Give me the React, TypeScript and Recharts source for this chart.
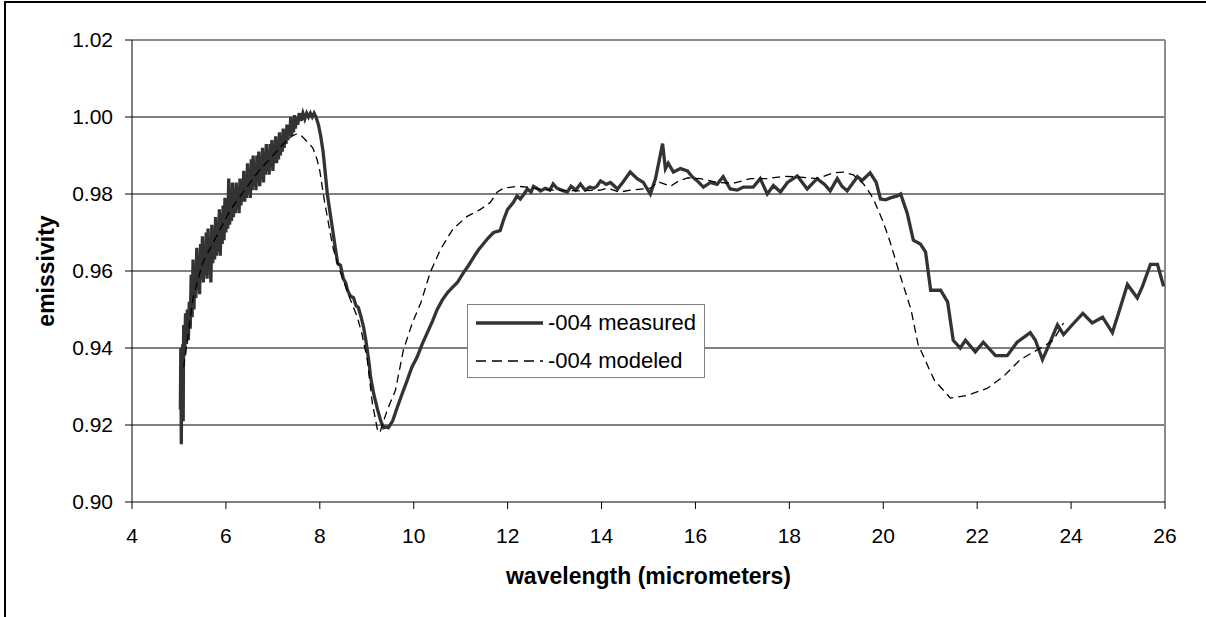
import React from 'react';
import { LineChart, Line, XAxis, YAxis, CartesianGrid, ReferenceLine, Legend, Label } from 'recharts';

const xTicks = [4, 6, 8, 10, 12, 14, 16, 18, 20, 22, 24, 26];
const yTicks = [0.9, 0.92, 0.94, 0.96, 0.98, 1.0, 1.02];
const gridValues = [0.92, 0.94, 0.96, 0.98, 1.0];

const measuredName = '-004 measured';
const modeledName = '-004 modeled';

// [wavelength (micrometers), emissivity]
const measuredPoints: [number, number][] = [
  [5.03, 0.924], [5.04, 0.940], [5.05, 0.915], [5.06, 0.935], [5.07, 0.927], [5.08, 0.941], [5.09, 0.921], [5.10, 0.946],
  [5.12, 0.938], [5.14, 0.949], [5.16, 0.941], [5.18, 0.950], [5.20, 0.942], [5.22, 0.952], [5.24, 0.945], [5.26, 0.959],
  [5.28, 0.948], [5.30, 0.963], [5.32, 0.950], [5.34, 0.961], [5.36, 0.953], [5.38, 0.966], [5.40, 0.955], [5.42, 0.964],
  [5.44, 0.954], [5.46, 0.967], [5.48, 0.958], [5.50, 0.969], [5.52, 0.957], [5.54, 0.966], [5.56, 0.959], [5.58, 0.970],
  [5.60, 0.958], [5.62, 0.971], [5.64, 0.961], [5.66, 0.968], [5.68, 0.957], [5.70, 0.972], [5.72, 0.962], [5.74, 0.970],
  [5.76, 0.963], [5.78, 0.974], [5.80, 0.964], [5.82, 0.972], [5.84, 0.965], [5.86, 0.976], [5.88, 0.964], [5.90, 0.975],
  [5.92, 0.967], [5.94, 0.977], [5.96, 0.968], [5.98, 0.979], [6.00, 0.970], [6.02, 0.978], [6.04, 0.971], [6.06, 0.984],
  [6.08, 0.972], [6.10, 0.981], [6.12, 0.973], [6.14, 0.983], [6.16, 0.974], [6.18, 0.980], [6.20, 0.975], [6.22, 0.983],
  [6.24, 0.976], [6.26, 0.982], [6.28, 0.975], [6.30, 0.984], [6.32, 0.977], [6.34, 0.983], [6.36, 0.978], [6.38, 0.986],
  [6.40, 0.978], [6.42, 0.985], [6.44, 0.979], [6.46, 0.988], [6.48, 0.980], [6.50, 0.986], [6.52, 0.979], [6.54, 0.989],
  [6.56, 0.981], [6.58, 0.990], [6.60, 0.982], [6.62, 0.988], [6.64, 0.981], [6.66, 0.990], [6.68, 0.983], [6.70, 0.991],
  [6.72, 0.982], [6.74, 0.989], [6.76, 0.984], [6.78, 0.992], [6.80, 0.983], [6.82, 0.990], [6.84, 0.985], [6.86, 0.993],
  [6.88, 0.986], [6.90, 0.991], [6.92, 0.985], [6.94, 0.993], [6.96, 0.987], [6.98, 0.994], [7.00, 0.986], [7.02, 0.992],
  [7.04, 0.988], [7.06, 0.995], [7.08, 0.988], [7.10, 0.993], [7.12, 0.989], [7.14, 0.996], [7.16, 0.990], [7.18, 0.995],
  [7.20, 0.991], [7.22, 0.997], [7.24, 0.992], [7.26, 0.996], [7.28, 0.993], [7.30, 0.998], [7.32, 0.994], [7.34, 0.997],
  [7.36, 0.995], [7.38, 1.000], [7.40, 0.995], [7.42, 0.999], [7.44, 0.996], [7.46, 1.0005], [7.48, 0.997], [7.50, 1.000],
  [7.53, 0.998], [7.56, 1.001], [7.60, 0.999], [7.64, 1.001], [7.68, 0.9995], [7.72, 1.001], [7.76, 1.000], [7.80, 1.001],
  [7.84, 1.000], [7.88, 1.001], [7.92, 1.000], [7.97, 0.998], [8.02, 0.995], [8.07, 0.991], [8.12, 0.985], [8.16, 0.980],
  [8.22, 0.975], [8.27, 0.971], [8.33, 0.966], [8.38, 0.962], [8.44, 0.9615], [8.50, 0.958], [8.55, 0.957], [8.59, 0.955],
  [8.65, 0.9535], [8.72, 0.953], [8.77, 0.951], [8.82, 0.9505], [8.88, 0.948], [8.93, 0.9455], [8.98, 0.942], [9.01, 0.9395],
  [9.05, 0.936], [9.08, 0.9325], [9.15, 0.928], [9.23, 0.924], [9.30, 0.921], [9.36, 0.9193], [9.42, 0.9195], [9.46, 0.9193],
  [9.55, 0.921], [9.65, 0.9246], [9.75, 0.928], [9.86, 0.9316], [9.96, 0.935], [10.07, 0.9376], [10.18, 0.941], [10.29, 0.944],
  [10.40, 0.947], [10.50, 0.950], [10.61, 0.9525], [10.72, 0.9544], [10.83, 0.9558], [10.93, 0.957], [11.06, 0.9596], [11.17, 0.9615],
  [11.27, 0.9635], [11.38, 0.9655], [11.48, 0.967], [11.58, 0.9685], [11.70, 0.970], [11.84, 0.9705], [11.92, 0.9735], [12.00, 0.976],
  [12.12, 0.9778], [12.20, 0.9795], [12.27, 0.9787], [12.35, 0.980], [12.42, 0.9813], [12.50, 0.9805], [12.55, 0.982], [12.62, 0.9815],
  [12.70, 0.9808], [12.80, 0.9815], [12.90, 0.981], [12.97, 0.9826], [13.05, 0.9815], [13.15, 0.981], [13.27, 0.9805], [13.35, 0.982],
  [13.45, 0.981], [13.55, 0.9826], [13.65, 0.981], [13.75, 0.9818], [13.83, 0.9815], [13.90, 0.982], [13.98, 0.9834], [14.10, 0.9825],
  [14.19, 0.983], [14.34, 0.9813], [14.45, 0.983], [14.61, 0.9857], [14.76, 0.984], [14.89, 0.983], [15.04, 0.980], [15.15, 0.984],
  [15.30, 0.9931], [15.36, 0.9866], [15.42, 0.988], [15.53, 0.9857], [15.68, 0.9866], [15.83, 0.986], [15.93, 0.9845], [16.04, 0.9834],
  [16.17, 0.9818], [16.32, 0.983], [16.46, 0.9825], [16.59, 0.9845], [16.74, 0.9813], [16.89, 0.981], [17.02, 0.9818], [17.23, 0.9818],
  [17.38, 0.984], [17.53, 0.980], [17.66, 0.9822], [17.81, 0.9805], [17.96, 0.983], [18.17, 0.9847], [18.38, 0.9813], [18.59, 0.984],
  [18.75, 0.9825], [18.87, 0.9808], [19.02, 0.984], [19.12, 0.982], [19.23, 0.9808], [19.45, 0.9845], [19.55, 0.9835], [19.72, 0.9855],
  [19.85, 0.983], [19.94, 0.9787], [20.05, 0.9785], [20.15, 0.979], [20.30, 0.9795], [20.37, 0.980], [20.51, 0.975], [20.64, 0.968],
  [20.79, 0.967], [20.90, 0.965], [21.01, 0.955], [21.22, 0.955], [21.37, 0.952], [21.49, 0.942], [21.64, 0.940], [21.75, 0.942],
  [21.96, 0.939], [22.13, 0.9415], [22.39, 0.938], [22.64, 0.938], [22.85, 0.9415], [23.13, 0.944], [23.24, 0.942], [23.39, 0.937],
  [23.50, 0.940], [23.71, 0.946], [23.84, 0.9435], [24.06, 0.9465], [24.25, 0.949], [24.45, 0.9465], [24.67, 0.948], [24.88, 0.944],
  [25.01, 0.949], [25.20, 0.9565], [25.41, 0.953], [25.52, 0.956], [25.69, 0.9617], [25.84, 0.9617], [25.97, 0.956],
];

// [wavelength (micrometers), emissivity]
const modeledPoints: [number, number][] = [
  [5.10, 0.935], [5.30, 0.953], [5.50, 0.962], [5.80, 0.969], [6.10, 0.976], [6.40, 0.981], [6.70, 0.986], [7.00, 0.990],
  [7.22, 0.993], [7.40, 0.995], [7.52, 0.9957], [7.62, 0.995], [7.73, 0.9936], [7.85, 0.992], [7.94, 0.989], [8.00, 0.986],
  [8.05, 0.982], [8.10, 0.978], [8.16, 0.974], [8.22, 0.970], [8.29, 0.9656], [8.44, 0.9596], [8.65, 0.9526], [8.80, 0.948],
  [8.90, 0.9435], [9.01, 0.937], [9.12, 0.9256], [9.23, 0.9186], [9.28, 0.918], [9.33, 0.920], [9.44, 0.924], [9.61, 0.929],
  [9.78, 0.9395], [9.97, 0.9465], [10.15, 0.9517], [10.35, 0.9596], [10.57, 0.9656], [10.84, 0.971], [11.14, 0.9742], [11.42, 0.976],
  [11.63, 0.9778], [11.78, 0.9805], [11.91, 0.9815], [12.21, 0.982], [12.42, 0.9818], [12.70, 0.9812], [13.00, 0.981], [13.50, 0.9808],
  [13.98, 0.981], [14.12, 0.9815], [14.39, 0.9805], [14.61, 0.981], [15.04, 0.9815], [15.21, 0.9832], [15.47, 0.982], [15.62, 0.9832],
  [15.83, 0.9842], [16.10, 0.984], [16.46, 0.983], [16.81, 0.9828], [17.17, 0.984], [17.53, 0.984], [17.88, 0.9846], [18.23, 0.9844],
  [18.59, 0.984], [18.94, 0.9855], [19.15, 0.9857], [19.36, 0.985], [19.58, 0.9826], [19.66, 0.9813], [19.79, 0.9787], [20.00, 0.9727],
  [20.15, 0.9674], [20.32, 0.9604], [20.59, 0.950], [20.74, 0.941], [20.96, 0.935], [21.09, 0.9316], [21.43, 0.927], [21.79, 0.9277],
  [22.21, 0.9295], [22.55, 0.9325], [22.92, 0.937], [23.35, 0.940], [23.62, 0.942], [23.84, 0.9465],
];

const measuredData = measuredPoints.map(([x, e]) => ({ x, e }));
const modeledData = modeledPoints.map(([x, e]) => ({ x, e }));

const FONT = '"Liberation Sans", Arial, sans-serif';
const MEASURED_COLOR = '#333333';

const renderLegend = () => (
  <div
    style={{
      width: 236,
      height: 72,
      border: '1.5px solid #808080',
      background: '#fff',
      fontFamily: FONT,
      fontSize: 22,
      color: '#000',
      boxSizing: 'content-box',
      position: 'relative',
    }}
  >
    {[
      { name: measuredName, dash: undefined, w: 3.3, c: MEASURED_COLOR, top: 18 },
      { name: modeledName, dash: '10 6', w: 1.5, c: '#000', top: 56 },
    ].map((r) => (
      <div key={r.name} style={{ position: 'absolute', left: 0, top: r.top - 14, height: 28, display: 'flex', alignItems: 'center', whiteSpace: 'nowrap' }}>
        <svg width={80} height={28} style={{ display: 'block' }}>
          <line x1={8} y1={14} x2={75} y2={14} stroke={r.c} strokeWidth={r.w} strokeDasharray={r.dash} />
        </svg>
        <span>{r.name}</span>
      </div>
    ))}
  </div>
);

const YTitle = (props: any) => {
  const vb = props.viewBox || { x: 0, y: 0, width: 0, height: 0 };
  const cx = vb.x - 26;
  const cy = vb.y + vb.height / 2;
  return (
    <text
      x={cx}
      y={cy}
      transform={`rotate(-90 ${cx} ${cy})`}
      textAnchor="middle"
      dominantBaseline="central"
      fontFamily={FONT}
      fontWeight="bold"
      fontSize={23}
      fill="#000"
    >
      emissivity
    </text>
  );
};

const XTitle = (props: any) => {
  const vb = props.viewBox || { x: 0, y: 0, width: 0, height: 0 };
  const cx = vb.x + vb.width / 2;
  const cy = vb.y + vb.height + 52;
  return (
    <text x={cx} y={cy} textAnchor="middle" fontFamily={FONT} fontWeight="bold" fontSize={23} fill="#000">
      wavelength (micrometers)
    </text>
  );
};

export default function App() {
  return (
    <div style={{ position: 'fixed', left: 0, top: 0, width: 1206, height: 617, overflow: 'hidden', background: '#fff' }}>
      <div
        style={{
          position: 'absolute',
          left: 4,
          top: 1,
          width: 1300,
          height: 700,
          borderTop: '2px solid #000',
          borderLeft: '2px solid #000',
        }}
      />
      <LineChart
        width={1206}
        height={617}
        margin={{ top: 40, right: 41, bottom: 85, left: 72 }}
        style={{ position: 'absolute', left: 0, top: 0, fontFamily: FONT }}
      >
        <CartesianGrid horizontal vertical={false} stroke="#000" strokeWidth={1} horizontalValues={gridValues} />
        <ReferenceLine y={1.02} stroke="#8c8c8c" strokeWidth={2} />
        <ReferenceLine x={26} stroke="#8c8c8c" strokeWidth={2} />
        <XAxis
          dataKey="x"
          type="number"
          domain={[4, 26]}
          ticks={xTicks}
          allowDataOverflow
          stroke="#000"
          tickSize={7}
          tickMargin={19}
          height={30}
          tick={{ fontSize: 21, fill: '#000', fontFamily: FONT }}
        >
          <Label content={<XTitle />} />
        </XAxis>
        <YAxis
          type="number"
          domain={[0.9, 1.02]}
          ticks={yTicks}
          allowDataOverflow
          stroke="#000"
          width={60}
          tickSize={7}
          tickMargin={12}
          tickFormatter={(v: number) => v.toFixed(2)}
          tick={{ fontSize: 21, fill: '#000', fontFamily: FONT }}
        >
          <Label content={<YTitle />} />
        </YAxis>
        <Legend
          content={renderLegend}
          layout="vertical"
          align="center"
          verticalAlign="middle"
          wrapperStyle={{ position: 'absolute', left: 467, top: 304, width: 239, height: 75 }}
        />
        <Line
          data={measuredData}
          dataKey="e"
          name={measuredName}
          type="linear"
          stroke={MEASURED_COLOR}
          strokeWidth={3.3}
          dot={false}
          activeDot={false}
          isAnimationActive={false}
        />
        <Line
          data={modeledData}
          dataKey="e"
          name={modeledName}
          type="linear"
          stroke="#000"
          strokeWidth={1.3}
          strokeDasharray="8 5"
          dot={false}
          activeDot={false}
          isAnimationActive={false}
        />
      </LineChart>
    </div>
  );
}
